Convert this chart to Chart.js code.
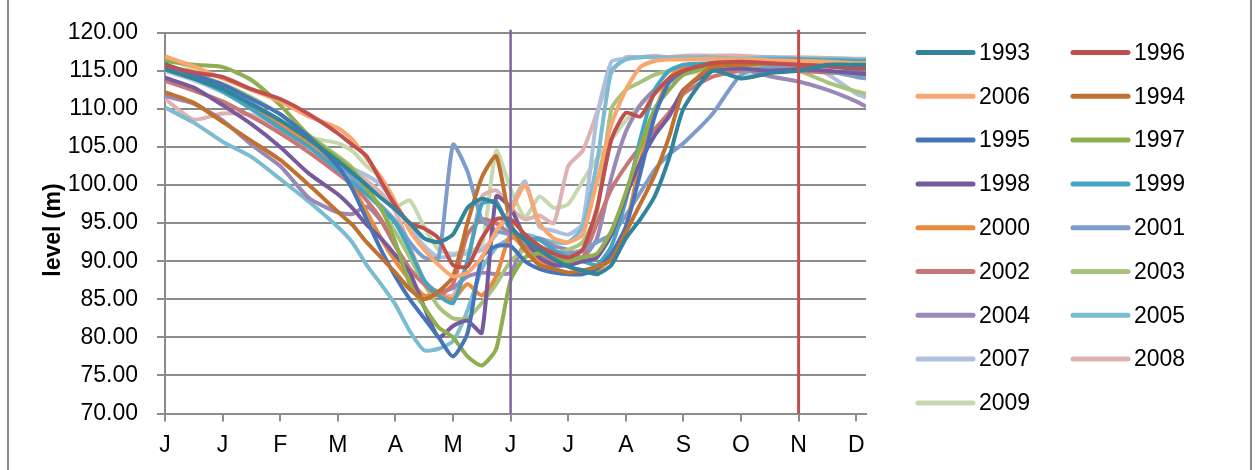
<!DOCTYPE html>
<html>
<head>
<meta charset="utf-8">
<script src="https://cdn.jsdelivr.net/npm/chart.js@4.4.1/dist/chart.umd.min.js"></script>
<style>
  html, body { margin: 0; padding: 0; background: #ffffff; }
  #wrap { width: 1259px; height: 470px; position: relative; }
</style>
</head>
<body>
<div id="wrap"><canvas id="levels" width="1259" height="470"></canvas></div>
<script>
// Month tick labels along the x axis (one per tick, index = month position)
const monthLabels = ['J', 'J', 'F', 'M', 'A', 'M', 'J', 'J', 'A', 'S', 'O', 'N', 'D'];

// Sample positions along the year, in month units
const samplePos = [0, 0.5, 1, 1.5, 2, 2.5, 3, 3.25, 3.5, 3.75, 4, 4.25, 4.5, 4.75, 5, 5.25, 5.5, 5.75,
  6, 6.25, 6.5, 6.75, 7, 7.25, 7.5, 7.75, 8, 8.25, 8.5, 8.75, 9, 9.5, 10, 10.5, 11, 11.5, 12, 12.17];

// Reservoir level (m) per year at the sample positions
const y1993 = [115.2, 114.0, 112.6, 110.6, 108.5, 106.0, 103.2, 101.6, 100.0, 98.3, 96.8, 95.0, 93.0, 92.5, 93.5, 97.0, 98.2, 97.5, 94.5, 92.8, 91.5, 90.3, 89.3, 88.8, 88.3, 89.5, 93.0, 95.5, 98.5, 103.5, 110.0, 115.0, 114.0, 114.7, 115.0, 115.8, 115.8, 115.8];
const y1996 = [115.7, 114.8, 114.2, 112.6, 111.3, 109.3, 106.8, 105.3, 103.8, 100.5, 97.3, 95.0, 94.3, 93.0, 89.5, 89.3, 93.0, 95.5, 95.5, 93.5, 92.0, 91.0, 90.5, 91.5, 97.0, 106.0, 109.5, 109.0, 112.0, 114.0, 115.0, 116.0, 116.2, 116.0, 115.8, 115.6, 115.4, 115.4];
const y2006 = [116.9, 115.6, 114.0, 112.5, 111.0, 109.0, 107.5, 106.0, 103.5, 101.0, 97.8, 94.0, 91.5, 89.5, 88.0, 88.5, 90.5, 94.0, 96.5, 100.0, 95.0, 93.0, 92.5, 93.5, 100.5, 108.0, 112.5, 115.5, 116.3, 116.5, 116.5, 116.6, 116.5, 116.4, 116.3, 116.2, 116.0, 116.0];
const y1994 = [112.2, 110.8, 108.3, 105.8, 103.3, 100.0, 96.5, 94.8, 92.5, 90.5, 88.5, 86.3, 85.0, 86.0, 88.0, 95.0, 101.0, 103.8, 95.0, 91.5, 89.5, 89.0, 88.5, 88.8, 89.3, 90.2, 93.8, 97.5, 101.3, 106.3, 112.3, 115.5, 115.8, 116.0, 116.0, 115.8, 115.5, 115.5];
const y1995 = [115.9, 114.5, 113.2, 111.3, 109.3, 106.3, 102.5, 99.5, 95.5, 91.5, 88.0, 85.0, 82.5, 80.0, 77.5, 80.5, 90.5, 92.0, 92.0, 90.0, 89.0, 88.5, 88.3, 88.3, 89.0, 91.0, 94.5, 101.5, 109.0, 113.5, 115.0, 116.0, 116.3, 116.0, 116.0, 115.6, 115.3, 115.3];
const y1997 = [116.3, 115.8, 115.5, 113.8, 110.5, 106.5, 103.5, 102.0, 99.5, 97.0, 92.5, 87.0, 84.0, 81.3, 80.0, 77.5, 76.3, 78.5, 87.5, 90.5, 91.0, 90.5, 90.0, 90.5, 91.0, 94.0, 99.0, 105.0, 110.0, 112.5, 114.5, 115.5, 115.8, 116.0, 116.2, 116.2, 116.0, 116.0];
const y1998 = [114.1, 112.8, 110.5, 108.0, 105.0, 101.5, 98.8, 97.0, 94.8, 93.0, 90.8, 88.5, 84.0, 80.0, 81.5, 82.2, 80.6, 98.5, 97.0, 93.0, 90.5, 89.5, 89.5, 90.0, 90.5, 93.5, 98.5, 103.0, 106.5, 109.0, 112.5, 115.0, 115.3, 115.0, 115.2, 115.0, 114.7, 114.6];
const y1999 = [115.4, 114.0, 112.3, 110.0, 107.5, 105.0, 102.0, 100.3, 98.8, 97.0, 95.0, 91.5, 87.5, 85.5, 84.5, 90.0, 97.5, 97.8, 94.0, 93.0, 92.8, 91.5, 90.5, 90.0, 89.5, 92.0, 98.0, 106.0, 112.5, 115.0, 115.8, 116.0, 116.3, 116.5, 116.5, 116.4, 116.3, 116.3];
const y2000 = [115.3, 114.0, 112.5, 110.3, 108.0, 105.3, 102.0, 99.8, 96.5, 93.0, 90.0, 87.5, 85.5, 85.5, 85.0, 87.0, 85.5, 88.0, 93.5, 91.5, 90.0, 89.0, 88.5, 88.5, 88.7, 90.5, 94.5, 103.0, 109.5, 114.0, 115.5, 116.0, 116.2, 116.0, 115.8, 115.6, 115.3, 115.3];
const y2001 = [115.7, 114.5, 113.0, 110.8, 108.5, 105.8, 102.8, 101.0, 99.0, 97.3, 95.3, 92.5, 90.5, 90.5, 105.3, 101.8, 95.5, 94.0, 93.5, 92.5, 91.8, 91.3, 91.0, 91.5, 92.5, 93.5, 96.0, 99.0, 102.0, 104.0, 105.5, 109.3, 114.5, 115.5, 115.5, 115.0, 114.2, 114.0];
const y2002 = [113.7, 112.4, 111.0, 109.0, 106.8, 104.3, 101.5, 100.0, 98.0, 95.5, 92.0, 89.0, 87.0, 85.5, 87.0, 93.5, 95.5, 95.0, 93.5, 92.0, 91.0, 90.0, 89.5, 90.5, 95.0, 99.5, 102.5, 105.0, 107.3, 109.5, 112.0, 114.2, 115.0, 115.2, 115.0, 114.8, 114.6, 114.5];
const y2003 = [115.5, 114.5, 113.3, 111.5, 109.3, 106.5, 103.8, 102.3, 99.8, 96.8, 93.8, 90.5, 87.0, 84.0, 82.5, 82.5, 84.5, 87.0, 90.0, 91.5, 91.0, 91.0, 91.5, 92.5, 96.5, 110.0, 112.5, 113.5, 114.5, 115.0, 115.5, 115.5, 115.5, 115.5, 115.0, 113.5, 112.3, 112.0];
const y2004 = [111.7, 110.7, 108.5, 105.3, 102.5, 98.3, 96.4, 96.2, 97.2, 95.3, 92.0, 89.0, 87.0, 86.0, 86.5, 88.0, 88.5, 88.3, 88.5, 92.5, 93.0, 92.0, 91.5, 90.5, 93.0, 101.0, 107.0, 110.5, 112.5, 113.5, 115.0, 115.7, 115.3, 114.3, 113.6, 112.5, 111.0, 110.3];
const y2005 = [110.2, 108.2, 105.7, 103.7, 100.8, 97.8, 94.5, 92.5, 89.5, 87.0, 84.3, 80.8, 78.3, 78.5, 79.5, 83.5, 89.0, 91.8, 93.0, 93.5, 93.0, 92.5, 92.5, 94.5, 103.0, 115.0, 116.5, 116.8, 116.8, 116.8, 116.8, 116.8, 116.6, 116.8, 116.6, 116.6, 116.5, 116.5];
const y2007 = [115.0, 113.8, 112.2, 110.2, 108.2, 105.8, 103.5, 102.2, 101.3, 100.0, 97.5, 94.5, 92.0, 90.5, 90.8, 91.0, 91.5, 93.5, 97.0, 100.5, 94.5, 94.0, 93.5, 95.0, 109.0, 116.2, 116.6, 116.8, 116.8, 116.7, 116.7, 116.5, 116.3, 116.0, 116.0, 114.6, 112.0, 111.5];
const y2008 = [111.3, 108.6, 109.4, 109.2, 107.3, 105.0, 103.2, 102.0, 100.6, 99.0, 96.5, 92.0, 87.5, 85.8, 85.5, 90.0, 98.5, 99.3, 97.0, 95.5, 96.0, 95.0, 102.5, 104.5, 109.5, 114.8, 116.8, 116.8, 117.0, 116.8, 117.0, 117.0, 117.0, 116.8, 116.8, 116.7, 116.6, 116.6];
const y2009 = [116.8, 115.2, 112.8, 110.3, 108.5, 106.3, 105.5, 104.5, 102.5, 101.0, 97.2, 98.0, 94.5, 91.5, 91.0, 91.4, 92.0, 104.5, 99.5, 95.8, 98.5, 97.0, 97.5, 100.5, 103.5, 106.0, 108.5, 110.5, 112.0, 113.5, 114.5, 115.0, 114.2, 115.0, 116.0, 116.0, 116.0, 116.0];

// Series in legend order (filled row by row, two per row)
const seriesNames = ['1993', '1996', '2006', '1994', '1995', '1997', '1998', '1999', '2000',
  '2001', '2002', '2003', '2004', '2005', '2007', '2008', '2009'];
const seriesValues = [y1993, y1996, y2006, y1994, y1995, y1997, y1998, y1999, y2000,
  y2001, y2002, y2003, y2004, y2005, y2007, y2008, y2009];
const seriesColors = ['#31849B', '#C0504D', '#F9A66F', '#C0712F', '#4674B8', '#8DAF4E', '#775A9C', '#45A5C1', '#E98A3D',
  '#7C9CCB', '#C97776', '#A8C47C', '#9A88B6', '#7BBCD3', '#AEC0DD', '#DDB2B1', '#C6D8B0'];

// Reference lines: mid-year and end-of-season markers
const markerMonths = [6, 11];
const markerColors = ['#8064A2', '#C0504D'];

const FONT = '"Liberation Sans", Arial, sans-serif';
const AXIS_GREY = '#8c8c8c';

const datasets = seriesNames.map((name, i) => ({
  label: name,
  data: seriesValues[i].map((v, k) => ({ x: samplePos[k], y: v })),
  borderColor: seriesColors[i],
  backgroundColor: seriesColors[i],
  borderWidth: 4,
  pointRadius: 0,
  tension: 0.2,
  borderJoinStyle: 'round',
  fill: false
}));

const extras = {
  id: 'extras',
  beforeDraw(chart) {
    const ctx = chart.ctx;
    ctx.save();
    ctx.strokeStyle = AXIS_GREY;
    ctx.lineWidth = 2;
    ctx.beginPath();
    ctx.moveTo(8, 0); ctx.lineTo(8, 470);
    ctx.moveTo(1251, 0); ctx.lineTo(1251, 470);
    ctx.stroke();
    ctx.restore();
  },
  afterDatasetsDraw(chart) {
    const ctx = chart.ctx;
    const xs = chart.scales.x;
    const area = chart.chartArea;
    ctx.save();
    markerMonths.forEach((m, i) => {
      const px = xs.getPixelForValue(m);
      ctx.strokeStyle = markerColors[i];
      ctx.lineWidth = i === 0 ? 2.5 : 3;
      ctx.beginPath();
      ctx.moveTo(px, area.top - 3);
      ctx.lineTo(px, area.bottom);
      ctx.stroke();
    });
    ctx.restore();
  },
  afterDraw(chart) {
    const ctx = chart.ctx;
    ctx.save();
    // y axis title
    ctx.translate(54, 230);
    ctx.rotate(-Math.PI / 2);
    ctx.fillStyle = '#000';
    ctx.font = 'bold 23px ' + FONT;
    ctx.textAlign = 'center';
    ctx.textBaseline = 'middle';
    ctx.fillText('level (m)', 0, 0);
    ctx.restore();

    // legend, two columns
    ctx.save();
    ctx.font = '23px ' + FONT;
    ctx.textBaseline = 'middle';
    ctx.textAlign = 'left';
    chart.data.datasets.forEach((ds, i) => {
      const col = i % 2;
      const row = Math.floor(i / 2);
      const x0 = col === 0 ? 918 : 1073;
      const y0 = 52.5 + row * 43.8;
      ctx.strokeStyle = ds.borderColor;
      ctx.lineWidth = 5;
      ctx.lineCap = 'round';
      ctx.beginPath();
      ctx.moveTo(x0, y0);
      ctx.lineTo(x0 + 55, y0);
      ctx.stroke();
      ctx.fillStyle = '#000';
      ctx.fillText(ds.label, x0 + 61, y0 + 1);
    });
    ctx.restore();
  }
};

new Chart(document.getElementById('levels'), {
  type: 'line',
  data: { datasets },
  options: {
    responsive: false,
    animation: false,
    devicePixelRatio: 1,
    layout: { padding: { left: 0, top: 32, right: 393, bottom: 0 } },
    plugins: { legend: { display: false }, tooltip: { enabled: false } },
    scales: {
      x: {
        type: 'linear',
        min: 0,
        max: 12.17,
        afterBuildTicks: (s) => { s.ticks = monthLabels.map((_, i) => ({ value: i })); },
        afterFit: (s) => { s.height = 56.5; },
        grid: { drawOnChartArea: false, drawTicks: true, tickLength: 8, color: AXIS_GREY, lineWidth: 2 },
        border: { color: AXIS_GREY, width: 2 },
        ticks: {
          callback: (v, i) => monthLabels[i],
          font: { family: FONT, size: 23 },
          color: '#000',
          padding: 10,
          maxRotation: 0,
          autoSkip: false
        }
      },
      y: {
        min: 70,
        max: 120,
        afterFit: (s) => { s.width = 165; },
        grid: { color: AXIS_GREY, lineWidth: 2, tickLength: 8 },
        border: { color: AXIS_GREY, width: 2 },
        ticks: {
          stepSize: 5,
          callback: (v) => Number(v).toFixed(2),
          font: { family: FONT, size: 23 },
          color: '#000',
          padding: 19
        }
      }
    }
  },
  plugins: [extras]
});
</script>
</body>
</html>
